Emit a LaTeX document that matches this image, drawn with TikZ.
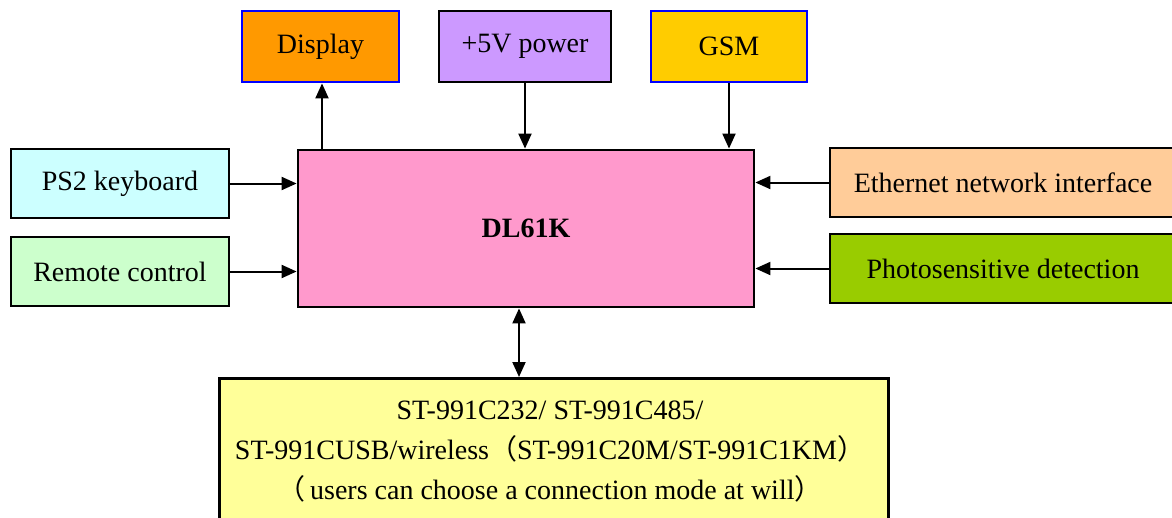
\documentclass[tikz,border=0pt]{standalone}
\usepackage{fontspec}
\setmainfont{Liberation Serif}
\newfontfamily\cjk{Noto Sans CJK SC}
\usetikzlibrary{arrows.meta}
\definecolor{cDisp}{HTML}{FF9900}
\definecolor{cPow}{HTML}{CC99FF}
\definecolor{cGsm}{HTML}{FFCC00}
\definecolor{cPs}{HTML}{CCFFFF}
\definecolor{cRem}{HTML}{CCFFCC}
\definecolor{cMain}{HTML}{FF99CC}
\definecolor{cEth}{HTML}{FFCC99}
\definecolor{cPho}{HTML}{99CC00}
\definecolor{cBot}{HTML}{FFFF99}
\definecolor{cBlue}{HTML}{0000FF}
\tikzset{
  blk/.style={draw=black, line width=2.8pt, inner sep=0pt, font=\fontsize{28}{32}\selectfont},
  conn/.style={line width=2pt, -{Triangle[length=15pt,width=13pt]}},
  biconn/.style={line width=2pt, {Triangle[length=15pt,width=13pt]}-{Triangle[length=15pt,width=13pt]}}
}
\begin{document}
\begin{tikzpicture}[x=1pt,y=-1pt]
\useasboundingbox (0,0) rectangle (1172,517);
\clip (0,0) rectangle (1172,517);
\fill[white] (0,0) rectangle (1172,517);
% top
\node[blk, draw=cBlue, fill=cDisp, minimum width=157pt, minimum height=71pt] (disp) at (320.5,46.5) {Display};
\node[blk, fill=cPow, minimum width=172pt, minimum height=71pt] (pow) at (525,46.5) {+5V power};
\node[blk, draw=cBlue, fill=cGsm, minimum width=156pt, minimum height=71pt] (gsm) at (729,46.5) {GSM};
% left
\node[blk, fill=cPs, minimum width=218pt, minimum height=69pt] (ps) at (120,183.5) {PS2 keyboard};
\node[blk, fill=cRem, minimum width=218pt, minimum height=69pt] (rem) at (120,271.5) {Remote control};
% main
\node[blk, fill=cMain, minimum width=456pt, minimum height=157pt] (main) at (526,228.5) {\bfseries DL61K};
% right
\node[blk, fill=cEth, minimum width=346pt, minimum height=69pt] (eth) at (1003,182.5) {Ethernet network interface};
\node[blk, fill=cPho, minimum width=346pt, minimum height=69pt] (pho) at (1003,268.5) {Photosensitive detection};
% bottom
\node[blk, fill=cBot, minimum width=669pt, minimum height=180pt, anchor=north west] (bot) at (218,377) {};
\node[font=\fontsize{28}{40}\selectfont, align=center, inner sep=0pt] (bottxt) at (550,452) {ST-991C232/ ST-991C485/\\ST-991CUSB/wireless{\cjk （}ST-991C20M/ST-991C1KM{\cjk ）}\\{\cjk （}\,users can choose a connection mode at will{\cjk ）}};
% connectors
\coordinate (dx) at (322,0);
\draw[conn] (main.north -| dx) -- (disp.south -| dx);
\draw[conn] (pow.south) -- (main.north -| pow.south);
\draw[conn] (gsm.south) -- (main.north -| gsm.south);
\draw[conn] (ps.east) -- (main.west |- ps.east);
\draw[conn] (rem.east) -- (main.west |- rem.east);
\draw[conn] (eth.west) -- (main.east |- eth.west);
\draw[conn] (pho.west) -- (main.east |- pho.west);
\coordinate (bx) at (519,0);
\draw[biconn] (main.south -| bx) -- (bot.north -| bx);
\end{tikzpicture}
\end{document}
